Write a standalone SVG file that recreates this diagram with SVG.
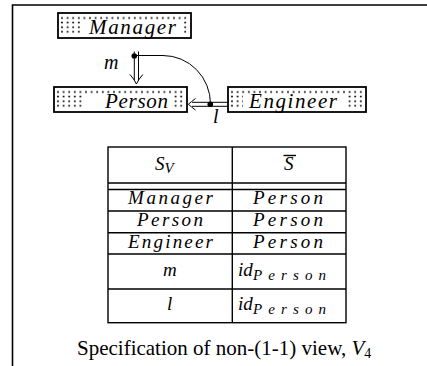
<svg xmlns="http://www.w3.org/2000/svg" width="427" height="366" viewBox="0 0 427 366">
<style>
.frame{stroke:#000;stroke-width:1.6;fill:none}
.box{fill:#fff;stroke:#000;stroke-width:1.8}
.mi{font-family:"Liberation Serif","Times New Roman",serif;font-style:italic;fill:#000}
.bt{font-size:21px}
.tt{font-size:19px}
.sub{font-size:15px}
.tl{stroke:#000;stroke-width:1.4;fill:none}
.cn{stroke:#000;stroke-width:1;fill:none}
.cap{font-family:"Liberation Serif","Times New Roman",serif;font-size:21px;fill:#000}
</style>
<defs>
<pattern id="dots" patternUnits="userSpaceOnUse" x="1.2" y="2.7" width="5.6" height="4.6">
<circle cx="2.8" cy="2.3" r="1" fill="#000"/>
</pattern>
</defs>
<rect width="427" height="366" fill="#fff"/>
<path class="frame" d="M12.5,366 V5 H427"/>

<g id="manager" transform="translate(58,13)">
<rect class="box" x="0" y="0" width="133" height="25"/>
<rect x="2" y="2" width="129" height="20" fill="url(#dots)"/>
<rect x="24" y="7.5" width="99" height="16" fill="#fff"/>
<text class="mi bt" x="31" y="20.5" textLength="87" lengthAdjust="spacing">Manager</text>
</g>

<g id="person" transform="translate(54,87)">
<rect class="box" x="0" y="0" width="133" height="25"/>
<rect x="2" y="2" width="129" height="20" fill="url(#dots)"/>
<rect x="29" y="7.5" width="88" height="16" fill="#fff"/>
<text class="mi bt" x="51" y="21" textLength="63" lengthAdjust="spacing">Person</text>
</g>

<g id="engineer" transform="translate(228,87)">
<rect class="box" x="0" y="0" width="138" height="25"/>
<rect x="2" y="2" width="134" height="20" fill="url(#dots)"/>
<rect x="15" y="7.5" width="103" height="16" fill="#fff"/>
<text class="mi bt" x="21" y="21" textLength="88" lengthAdjust="spacing">Engineer</text>
</g>

<g id="connectors">
<path class="cn" d="M134.3,51.5 V80 M138.5,51.5 V80"/>
<path class="cn" d="M130,74.5 Q134,79 136.4,84 Q138.8,79 142.8,74.5"/>
<path class="cn" stroke-width="1.8" d="M134.3,55.5 H163"/>
<path class="cn" d="M163,55.5 A47.5,48.5 0 0 1 210.5,104"/>
<circle cx="134.3" cy="56" r="2.8" fill="#000"/>
<text class="mi" font-size="20" x="104" y="69">m</text>
<path class="cn" d="M192,102.3 H228 M192,106.3 H228"/>
<path class="cn" d="M195.5,98.5 Q191,102 188.3,104.3 Q191,106.6 195.5,110"/>
<circle cx="210.3" cy="104.3" r="2.8" fill="#000"/>
<text class="mi" font-size="20" x="213" y="123">l</text>
</g>

<g id="table">
<rect class="tl" x="108" y="147" width="238" height="175.7"/>
<path class="tl" d="M232.3,147 V322.7 M108,183 H346 M108,189.5 H346 M108,211 H346 M108,232.7 H346 M108,254 H346 M108,289 H346"/>
<text class="mi tt" x="155" y="170">S<tspan class="sub" dy="3">V</tspan></text>
<text class="mi tt" x="284" y="170">S</text>
<path class="tl" stroke-width="1.1" d="M283.5,155.5 H296"/>
<text class="mi tt" x="128" y="204" textLength="85" lengthAdjust="spacing">Manager</text>
<text class="mi tt" x="253" y="204" textLength="70" lengthAdjust="spacing">Person</text>
<text class="mi tt" x="137" y="225.5" textLength="66" lengthAdjust="spacing">Person</text>
<text class="mi tt" x="253" y="225.5" textLength="70" lengthAdjust="spacing">Person</text>
<text class="mi tt" x="128" y="247.5" textLength="85" lengthAdjust="spacing">Engineer</text>
<text class="mi tt" x="253" y="247.5" textLength="70" lengthAdjust="spacing">Person</text>
<text class="mi tt" x="163" y="276">m</text>
<text class="mi tt" x="238" y="276">id</text>
<text class="mi sub" x="253" y="280" textLength="73" lengthAdjust="spacing">Person</text>
<text class="mi tt" x="167" y="310">l</text>
<text class="mi tt" x="238" y="310">id</text>
<text class="mi sub" x="253" y="314" textLength="73" lengthAdjust="spacing">Person</text>
</g>

<text class="cap" x="77" y="355">Specification of non-(1-1) view, <tspan font-style="italic">V</tspan><tspan font-size="14" dy="3">4</tspan></text>
</svg>
